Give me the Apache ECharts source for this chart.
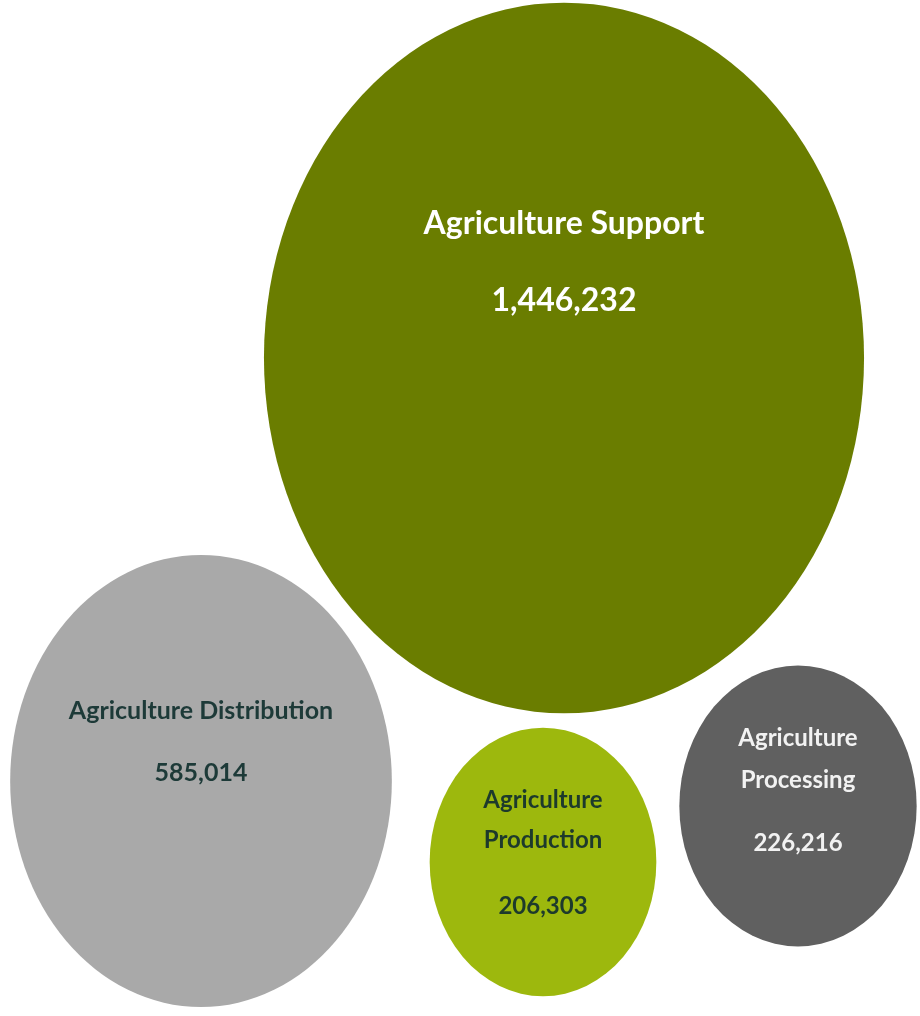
<!DOCTYPE html>
<html>
<head>
<meta charset="utf-8">
<title>Agriculture</title>
<script src="https://cdn.jsdelivr.net/npm/echarts@6/dist/echarts.min.js"></script>
<style>
  html, body { margin: 0; padding: 0; background: #fff; }
  #main { width: 920px; height: 1016px; }
</style>
</head>
<body>
<div id="main"></div>
<script>
// data
var categories = ['Agriculture Support', 'Agriculture Distribution', 'Agriculture Production', 'Agriculture Processing'];
var values = [1446232, 585014, 206303, 226216];

// layout of the bubbles (pixel space of the page)
var bubbleX = [564, 201, 543, 798];
var bubbleY = [358, 781, 862, 806];
var colors = ['#6a7d00', '#a9a9a9', '#9db80d', '#606060'];
var textColors = ['#ffffff', '#1d3a38', '#1d3a2c', '#f2f2f2'];

var widthK = 0.499;
var heightK = 0.591;

function buildLabel(i) {
    var num = values[i].toLocaleString('en-US');
    var name = categories[i];
    var parts = name.split(' ');
    if (i === 0) {
        return {
            dy: -96,
            formatter: '{a|' + name + '}\n{a|' + num + '}',
            rich: { a: { fontSize: 32, lineHeight: 77, color: textColors[i] } }
        };
    }
    if (i === 1) {
        return {
            dy: -39,
            formatter: '{a|' + name + '}\n{a|' + num + '}',
            rich: { a: { fontSize: 25, lineHeight: 62, color: textColors[i] } }
        };
    }
    if (i === 2) {
        return {
            dy: 4,
            formatter: '{a|' + parts[0] + '}\n{a|' + parts[1] + '}\n{b|' + num + '}',
            rich: {
                a: { fontSize: 24, lineHeight: 40, color: textColors[i] },
                b: { fontSize: 24, lineHeight: 92, color: textColors[i] }
            }
        };
    }
    return {
        dy: -5,
        formatter: '{a|' + parts[0] + '}\n{a|' + parts[1] + '}\n{b|' + num + '}',
        rich: {
            a: { fontSize: 24, lineHeight: 42, color: textColors[i] },
            b: { fontSize: 24, lineHeight: 84, color: textColors[i] }
        }
    };
}

var points = [];
for (var i = 0; i < categories.length; i++) {
    var lb = buildLabel(i);
    var w = widthK * Math.sqrt(values[i]);
    var h = heightK * Math.sqrt(values[i]);
    points.push({
        name: categories[i],
        value: [bubbleX[i], bubbleY[i], values[i]],
        symbolSize: [w, h],
        itemStyle: { color: colors[i], opacity: 1 },
        label: {
            show: true,
            position: [w / 2, h / 2 + lb.dy],
            align: 'center',
            verticalAlign: 'middle',
            formatter: lb.formatter,
            rich: lb.rich,
            fontFamily: 'Lato',
            fontWeight: 'bold'
        }
    });
}

var myChart = echarts.init(document.getElementById('main'));
var option = {
    animation: false,
    backgroundColor: '#ffffff',
    grid: { left: 0, right: 0, top: 0, bottom: 0 },
    xAxis: { type: 'value', min: 0, max: 920, show: false },
    yAxis: { type: 'value', min: 0, max: 1016, inverse: true, show: false },
    series: [{
        type: 'scatter',
        symbol: 'circle',
        data: points,
        emphasis: { disabled: true }
    }]
};
myChart.setOption(option);
</script>
</body>
</html>
